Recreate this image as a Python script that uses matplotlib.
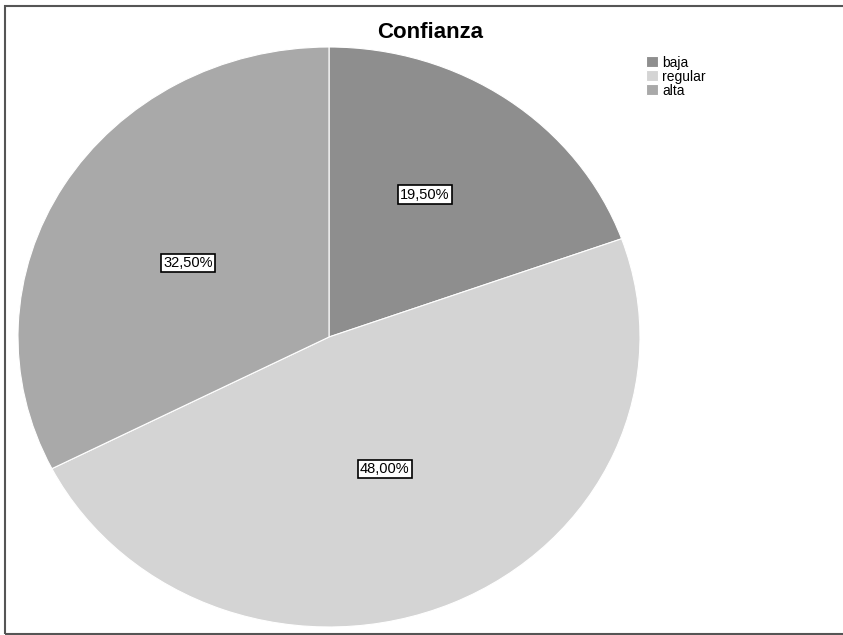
import numpy as np
import matplotlib.pyplot as plt
from matplotlib.patches import Rectangle

plt.rcParams['font.family'] = ['Liberation Sans', 'DejaVu Sans']

# data
categories = ["baja", "regular", "alta"]
percentages = [19.5, 48.0, 32.5]
colors = ["#8e8e8e", "#d4d4d4", "#a9a9a9"]
label_r = [0.58, 0.49, 0.52]  # radial position of each percentage box
label_shift = [3, -2, 2]       # small angular offset (degrees) of each box

fig = plt.figure(figsize=(8.43, 6.35), dpi=100)

# frame around the chart (right side runs off the image)
fig.patches.append(Rectangle((5 / 843, 1.5 / 635), 1.5, 628 / 635, transform=fig.transFigure,
                             fill=False, edgecolor="#555555", linewidth=1.5))

ax = fig.add_axes([18 / 843, 8 / 635, 622 / 843, 580 / 635])


def fmt(p):
    return f"{p:.2f}%".replace(".", ",")


wedges, texts, autotexts = ax.pie(
    percentages, colors=colors, startangle=90, counterclock=False,
    autopct=fmt, pctdistance=0.53,
    wedgeprops=dict(edgecolor="white", linewidth=0.8),
    textprops=dict(fontsize=10.5, color="black"),
)
for w, t, r, s in zip(wedges, autotexts, label_r, label_shift):
    ang = np.deg2rad((w.theta1 + w.theta2) / 2 + s)
    t.set_position((r * np.cos(ang), r * np.sin(ang)))
    t.set_bbox(dict(boxstyle="square,pad=0.15", facecolor="white", edgecolor="black", linewidth=1.2))

ax.set_aspect("auto")
ax.set_xlim(-1.0, 1.0)
ax.set_ylim(-1.0, 1.0)

fig.text(430 / 843, 1 - 33 / 635, "Confianza", ha="center", va="center",
         fontsize=16, fontweight="bold")

fig.legend(wedges, categories, loc="upper left", bbox_to_anchor=(640 / 843, 1 - 50 / 635),
           frameon=False, fontsize=10, handlelength=0.9, handleheight=0.8,
           handletextpad=0.3, labelspacing=0.0, borderaxespad=0)

plt.savefig("out.png", dpi=100)
